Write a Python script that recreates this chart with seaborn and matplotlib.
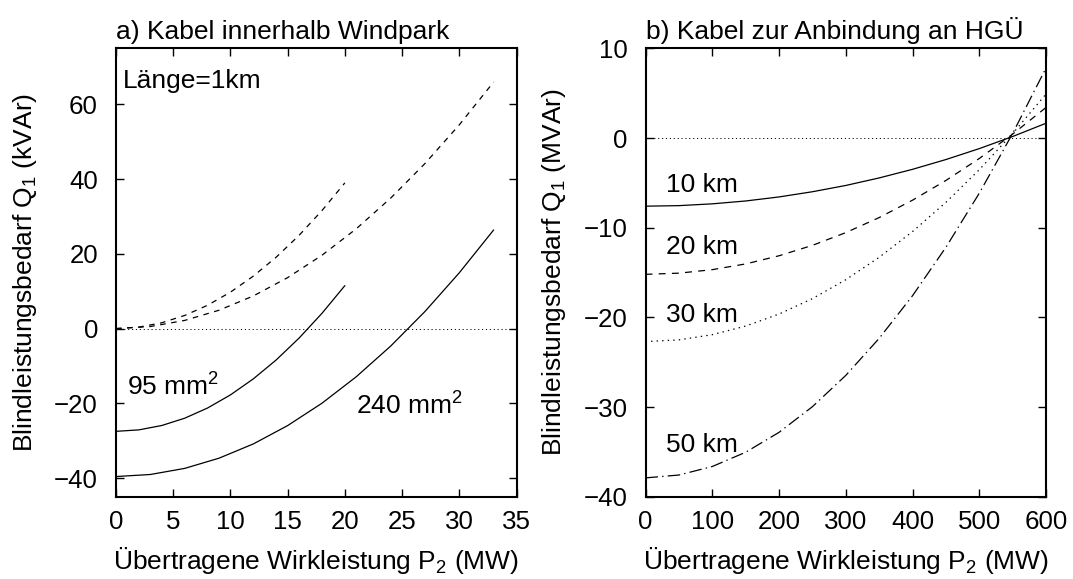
import matplotlib
matplotlib.use("Agg")
import matplotlib.pyplot as plt
import seaborn as sns

# a) cable inside the wind park, length 1 km
p_95 = [0, 2, 4, 6, 8, 10, 12, 14, 16, 18, 20]
q_95_loss = [0, 0.39, 1.56, 3.51, 6.24, 9.75, 14.04, 19.11, 24.96, 31.59, 39.0]
q_95_total = [-27.5, -27.11, -25.94, -23.99, -21.26, -17.75, -13.46, -8.39, -2.54, 4.09, 11.5]

p_240 = [0, 3, 6, 9, 12, 15, 18, 21, 24, 27, 30, 33]
q_240_loss = [0, 0.55, 2.18, 4.91, 8.73, 13.64, 19.63, 26.72, 34.91, 44.18, 54.54, 66.0]
q_240_total = [-39.6, -39.05, -37.42, -34.69, -30.87, -25.96, -19.97, -12.88, -4.69, 4.58, 14.94, 26.4]

# b) cable to the HVDC platform
p_hvdc = [0, 50, 100, 150, 200, 250, 300, 350, 400, 450, 500, 550, 600]
q_10km = [-7.6, -7.54, -7.34, -7.02, -6.57, -5.99, -5.29, -4.45, -3.49, -2.40, -1.18, 0.17, 1.65]
q_20km = [-15.2, -15.07, -14.68, -14.04, -13.13, -11.97, -10.55, -8.87, -6.93, -4.73, -2.28, 0.44, 3.41]
q_30km = [-22.7, -22.51, -21.93, -20.97, -19.63, -17.91, -15.80, -13.30, -10.43, -7.17, -3.53, 0.50, 4.91]
q_50km = [-37.9, -37.58, -36.63, -35.04, -32.82, -29.96, -26.47, -22.34, -17.58, -12.18, -6.15, 0.52, 7.82]

FS = 19
FS_TICK = 18.6

sns.set_theme(style="ticks")
plt.rcParams["font.family"] = ["Liberation Sans", "DejaVu Sans"]
plt.rcParams["mathtext.default"] = "regular"
plt.rcParams["lines.scale_dashes"] = False
plt.rcParams["font.size"] = FS
plt.rcParams["text.color"] = "black"
plt.rcParams["axes.labelcolor"] = "black"

fig = plt.figure(figsize=(10.73, 5.79), dpi=100)
ax1 = fig.add_axes([0.1081, 0.1421, 0.3733, 0.7744])
ax2 = fig.add_axes([0.6016, 0.1421, 0.3733, 0.7744])

lw = 0.9
zero_kw = dict(color="black", lw=0.7, dashes=(0.8, 2.0))

# left panel
sns.lineplot(x=p_95, y=q_95_total, ax=ax1, color="black", lw=lw)
sns.lineplot(x=p_240, y=q_240_total, ax=ax1, color="black", lw=lw)
sns.lineplot(x=p_95, y=q_95_loss, ax=ax1, color="black", lw=lw, dashes=(4, 4))
sns.lineplot(x=p_240, y=q_240_loss, ax=ax1, color="black", lw=lw, dashes=(4, 4))
ax1.axhline(0, **zero_kw)
ax1.set_xlim(0, 35)
ax1.set_ylim(-45, 75)
ax1.set_xticks(range(0, 36, 5))
ax1.set_yticks(range(-40, 61, 20))
ax1.text(0.64, 66.2, "Länge=1km", fontsize=FS, va="center")
ax1.text(0.93, -18, "95 mm$^2$", fontsize=FS)
ax1.text(21.0, -22.9, "240 mm$^2$", fontsize=FS)
ax1.set_title("a) Kabel innerhalb Windpark", loc="left", fontsize=FS, pad=7)
ax1.set_xlabel("Übertragene Wirkleistung P$_2$ (MW)", fontsize=FS, labelpad=8)
ax1.set_ylabel("Blindleistungsbedarf Q$_1$ (kVAr)", fontsize=FS, labelpad=11)

# right panel
sns.lineplot(x=p_hvdc, y=q_10km, ax=ax2, color="black", lw=lw)
sns.lineplot(x=p_hvdc, y=q_20km, ax=ax2, color="black", lw=lw, dashes=(5, 4.5))
sns.lineplot(x=p_hvdc, y=q_30km, ax=ax2, color="black", lw=lw, dashes=(1, 3))
sns.lineplot(x=p_hvdc, y=q_50km, ax=ax2, color="black", lw=lw, dashes=(9, 3, 1, 3))
ax2.axhline(0, **zero_kw)
ax2.set_xlim(0, 600)
ax2.set_ylim(-40, 10)
ax2.set_xticks(range(0, 601, 100))
ax2.set_yticks(range(-40, 11, 10))
ax2.text(30, -6.0, "10 km", fontsize=FS)
ax2.text(30, -12.9, "20 km", fontsize=FS)
ax2.text(30, -20.5, "30 km", fontsize=FS)
ax2.text(30, -35.0, "50 km", fontsize=FS)
ax2.set_title("b) Kabel zur Anbindung an HGÜ", loc="left", fontsize=FS, pad=7)
ax2.set_xlabel("Übertragene Wirkleistung P$_2$ (MW)", fontsize=FS, labelpad=8)
ax2.set_ylabel("Blindleistungsbedarf Q$_1$ (MVAr)", fontsize=FS, labelpad=11)

for ax in (ax1, ax2):
    ax.tick_params(direction="in", length=6, width=1, top=True, right=True,
                   labelsize=FS_TICK, color="black", labelcolor="black")
    ax.tick_params(axis="x", pad=9.7)
    ax.tick_params(axis="y", pad=13)
    for s in ax.spines.values():
        s.set_linewidth(1.5)
        s.set_color("black")

fig.savefig("out.png", dpi=100)
